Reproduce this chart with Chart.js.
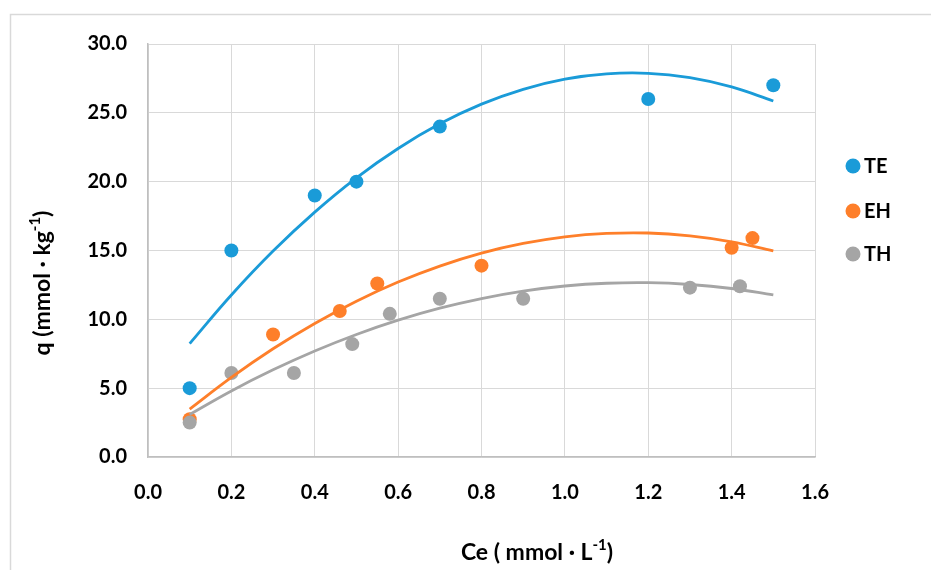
<!DOCTYPE html>
<html>
<head>
<meta charset="utf-8">
<script src="https://cdn.jsdelivr.net/npm/chart.js@4"></script>
<style>
html,body{margin:0;padding:0;background:#fff;}
#wrap{width:931px;height:570px;position:relative;}
</style>
</head>
<body>
<div id="wrap"><canvas id="c" width="931" height="570"></canvas></div>
<script>
// Series names and colours
const seriesNames = ["TE", "EH", "TH"];
const seriesColors = ["#1A9BD8", "#FE7F2A", "#A5A5A5"];

// Measured points (Ce, q)
const teCe = [0.1, 0.2, 0.4, 0.5, 0.7, 1.2, 1.5];
const teQ  = [5.0, 15.0, 19.0, 20.0, 24.0, 26.0, 27.0];
const ehCe = [0.1, 0.3, 0.46, 0.55, 0.8, 1.4, 1.45];
const ehQ  = [2.75, 8.9, 10.6, 12.6, 13.9, 15.2, 15.9];
const thCe = [0.1, 0.2, 0.35, 0.49, 0.58, 0.7, 0.9, 1.3, 1.42];
const thQ  = [2.5, 6.1, 6.1, 8.2, 10.4, 11.5, 11.5, 12.3, 12.4];

// Trendline curves
const trendCe = [0.1, 0.2, 0.3, 0.4, 0.5, 0.6, 0.7, 0.8, 0.9, 1.0, 1.1, 1.2, 1.3, 1.4, 1.5];
const teTrend = [8.24, 11.77, 14.96, 17.79, 20.28, 22.41, 24.20, 25.63, 26.71, 27.45, 27.83, 27.87, 27.55, 26.88, 25.86];
const ehTrend = [3.48, 5.78, 7.86, 9.70, 11.32, 12.71, 13.87, 14.81, 15.51, 15.99, 16.24, 16.27, 16.06, 15.63, 14.97];
const thTrend = [3.09, 4.80, 6.33, 7.70, 8.90, 9.94, 10.81, 11.51, 12.05, 12.42, 12.62, 12.66, 12.53, 12.24, 11.78];

// Axis ticks
const xTicks = [0.0, 0.2, 0.4, 0.6, 0.8, 1.0, 1.2, 1.4, 1.6];
const yTicks = [0.0, 5.0, 10.0, 15.0, 20.0, 25.0, 30.0];

const FONT = "Lato, 'Open Sans', sans-serif";

const pts = (xs, ys) => xs.map((x, i) => ({x: x, y: ys[i]}));

const pointSets = [pts(teCe, teQ), pts(ehCe, ehQ), pts(thCe, thQ)];
const trendSets = [pts(trendCe, teTrend), pts(trendCe, ehTrend), pts(trendCe, thTrend)];

const datasets = [];
trendSets.forEach((d, i) => {
  datasets.push({
    label: seriesNames[i] + " trend",
    type: "line",
    data: d,
    borderColor: seriesColors[i],
    backgroundColor: seriesColors[i],
    borderWidth: 2.8,
    pointRadius: 0,
    pointHoverRadius: 0,
    tension: 0.4,
    fill: false,
    order: 0
  });
});
pointSets.forEach((d, i) => {
  datasets.push({
    label: seriesNames[i],
    type: "scatter",
    data: d,
    backgroundColor: seriesColors[i],
    borderColor: seriesColors[i],
    borderWidth: 0,
    pointRadius: 7,
    pointHoverRadius: 7,
    showLine: false,
    order: 10 - i
  });
});

const decor = {
  id: "decor",
  beforeDraw(chart) {
    const ctx = chart.ctx;
    ctx.save();
    ctx.fillStyle = "#fff";
    ctx.fillRect(0, 0, chart.width, chart.height);
    ctx.strokeStyle = "#D9D9D9";
    ctx.lineWidth = 1.5;
    ctx.strokeRect(10.5, 14.5, 1000, 700);
    ctx.restore();
  },
  afterDraw(chart) {
    const ctx = chart.ctx;
    ctx.save();
    ctx.fillStyle = "#000";
    // Legend
    ctx.font = "bold 20px " + FONT;
    ctx.textBaseline = "middle";
    ctx.textAlign = "left";
    const legY = [166, 211, 254];
    seriesNames.forEach((n, i) => {
      ctx.beginPath();
      ctx.fillStyle = seriesColors[i];
      ctx.arc(853, legY[i], 7.5, 0, Math.PI * 2);
      ctx.fill();
      ctx.fillStyle = "#000";
      ctx.fillText(n, 864, legY[i] + 1);
    });
    // X axis title
    drawTitle(ctx, 537, 553, 0, "Ce ( mmol · L", "-1", ")");
    // Y axis title
    drawTitle(ctx, 43, 283, -Math.PI / 2, "q (mmol · kg", "-1", ")");
    ctx.restore();
  }
};

function drawTitle(ctx, cx, cy, rot, a, sup, b) {
  const big = "bold 23px " + FONT;
  const small = "bold 15px " + FONT;
  ctx.save();
  ctx.translate(cx, cy);
  ctx.rotate(rot);
  ctx.font = big;
  const wa = ctx.measureText(a).width;
  const wb = ctx.measureText(b).width;
  ctx.font = small;
  const ws = ctx.measureText(sup).width;
  const total = wa + ws + wb;
  let x = -total / 2;
  ctx.textBaseline = "middle";
  ctx.textAlign = "left";
  ctx.fillStyle = "#000";
  ctx.font = big;
  ctx.fillText(a, x, 0);
  x += wa;
  ctx.font = small;
  ctx.fillText(sup, x, -8);
  x += ws;
  ctx.font = big;
  ctx.fillText(b, x, 0);
  ctx.restore();
}

new Chart(document.getElementById("c"), {
  data: { datasets: datasets },
  options: {
    responsive: false,
    animation: false,
    events: [],
    layout: { padding: { top: 44, right: 116, bottom: 0, left: 0 } },
    plugins: {
      legend: { display: false },
      tooltip: { enabled: false },
      title: { display: false }
    },
    scales: {
      x: {
        type: "linear",
        min: xTicks[0],
        max: xTicks[xTicks.length - 1],
        afterBuildTicks(scale) { scale.ticks = xTicks.map(v => ({value: v})); },
        afterFit(scale) { scale.height = 113; },
        grid: { color: "#D9D9D9", lineWidth: 1, drawTicks: false },
        border: { color: "#BFBFBF", width: 1.5 },
        ticks: {
          padding: 24,
          color: "#000",
          font: { family: FONT, size: 20, weight: "bold" },
          callback: v => Number(v).toFixed(1)
        }
      },
      y: {
        type: "linear",
        min: yTicks[0],
        max: yTicks[yTicks.length - 1],
        afterBuildTicks(scale) { scale.ticks = yTicks.map(v => ({value: v})); },
        afterFit(scale) { scale.width = 148; },
        grid: { color: "#D9D9D9", lineWidth: 1, drawTicks: false },
        border: { color: "#BFBFBF", width: 1.5 },
        ticks: {
          padding: 21,
          color: "#000",
          font: { family: FONT, size: 20, weight: "bold" },
          callback: v => Number(v).toFixed(1)
        }
      }
    }
  },
  plugins: [decor]
});
</script>
</body>
</html>
